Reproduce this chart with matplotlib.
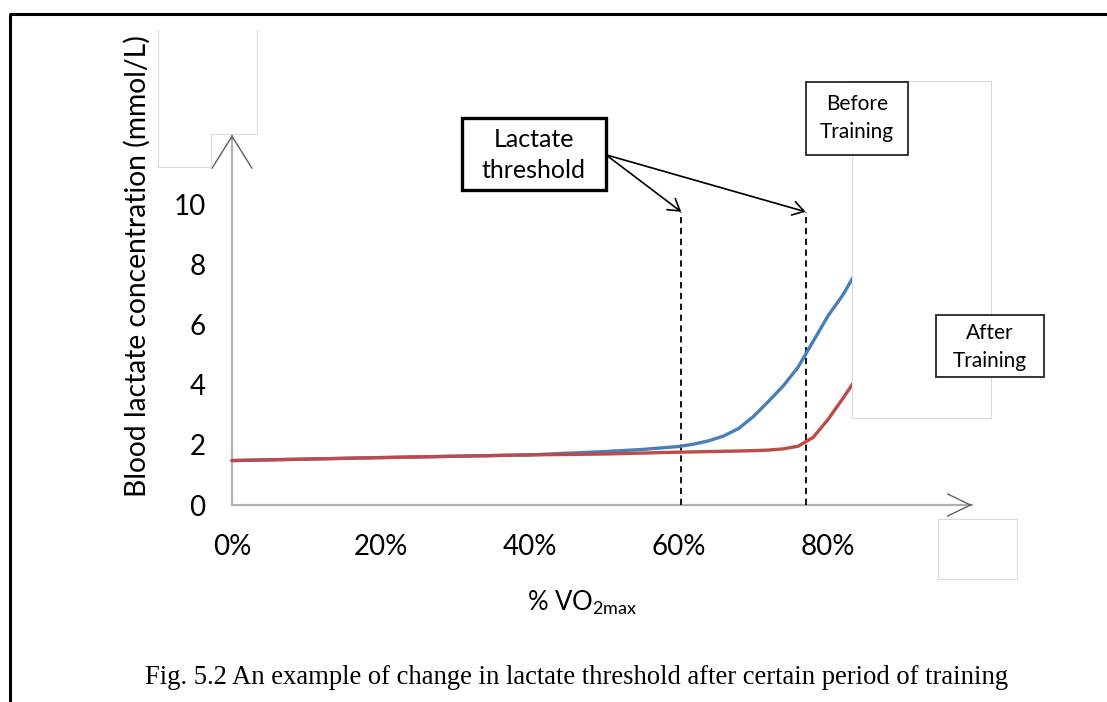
import matplotlib
matplotlib.use("Agg")
import matplotlib.pyplot as plt
from matplotlib.patches import Rectangle, Polygon

plt.rcParams['font.family'] = ['Lato', 'DejaVu Sans']
plt.rcParams['mathtext.fontset'] = 'custom'
plt.rcParams['mathtext.rm'] = 'Lato'

# ---- data ----
vo2_pct = [0, 20, 40, 50, 55, 58, 60, 62, 64, 66, 68, 70, 72, 74, 76, 78, 80, 82, 83.4]
before_training = [1.48, 1.58, 1.67, 1.78, 1.85, 1.91, 1.95, 2.03, 2.14, 2.3, 2.55, 2.95, 3.45,
                   3.97, 4.6, 5.45, 6.3, 7.0, 7.6]
after_training = [1.48, 1.58, 1.67, 1.70, 1.73, 1.75, 1.76, 1.77, 1.78, 1.79, 1.80, 1.81, 1.83,
                  1.87, 1.96, 2.25, 2.85, 3.55, 4.07]
thresholds = [60.3, 77.0]
threshold_top = 9.77
y_ticks = [0, 2, 4, 6, 8, 10]
x_ticks = [0, 20, 40, 60, 80]
x_tick_labels = ['0%', '20%', '40%', '60%', '80%']
x_max, y_max = 99.33, 12.33

W, H = 1107, 702
fig = plt.figure(figsize=(W / 100, H / 100), dpi=100)
fig.patch.set_facecolor('white')

ax = fig.add_axes([232 / W, 1 - 505 / H, 740 / W, 370 / H])
ax.set_xlim(0, x_max)
ax.set_ylim(0, y_max)
for s in ax.spines.values():
    s.set_visible(False)
ax.patch.set_alpha(0)
ax.set_yticks(y_ticks)
ax.set_yticklabels([str(v) for v in y_ticks])
ax.set_xticks(x_ticks)
ax.set_xticklabels(x_tick_labels)
ax.tick_params(length=0, labelsize=20, colors='black')
ax.tick_params(axis='y', pad=19)
ax.tick_params(axis='x', pad=21)

# axes with arrows
axis_col = '#b0b0b0'
head_col = '#606060'
ax.plot([0, x_max], [0, 0], color=axis_col, lw=1.6, clip_on=False, zorder=1)
ax.plot([0, 0], [0, y_max], color=axis_col, lw=1.6, clip_on=False, zorder=1)
ax.annotate('', xy=(x_max, 0), xytext=(-1, 0), textcoords='offset points',
            xycoords='data',
            arrowprops=dict(arrowstyle='->,head_length=1.65,head_width=0.8',
                            color=head_col, lw=1.0, shrinkA=0, shrinkB=0, mutation_scale=10))
ax.annotate('', xy=(0, y_max), xytext=(0, -1), textcoords='offset points',
            xycoords='data',
            arrowprops=dict(arrowstyle='->,head_length=2.3,head_width=1.44',
                            color=head_col, lw=1.0, shrinkA=0, shrinkB=0, mutation_scale=10))

# curves
ax.plot(vo2_pct, before_training, color='#4a7ebb', lw=2.4, solid_capstyle='round',
        solid_joinstyle='round', zorder=3, clip_on=False)
ax.plot(vo2_pct, after_training, color='#be4b48', lw=2.4, solid_capstyle='round',
        solid_joinstyle='round', zorder=4, clip_on=False)

# threshold dashed lines
ax.vlines(thresholds, 0, threshold_top, colors='black', linestyles=(0, (3.5, 2.5)), lw=1.3, zorder=2)

# arrows from the lactate-threshold box
for t in thresholds:
    ax.annotate('', xy=(t, threshold_top), xytext=(50.2, 11.67),
                arrowprops=dict(arrowstyle='->,head_length=0.8,head_width=0.5',
                                color='black', lw=1.2, shrinkA=0, shrinkB=0, mutation_scale=10),
                annotation_clip=False)

# ---- overlay in pixel coordinates ----
ov = fig.add_axes([0, 0, 1, 1], zorder=10)
ov.set_xlim(0, W)
ov.set_ylim(H, 0)
ov.axis('off')
ov.patch.set_alpha(0)

edge_light = '#dcdcdc'
# page border (top & left)
ov.plot([10, 10], [14, H + 5], color='black', lw=2.2, solid_capstyle='butt')
ov.plot([9, W + 5], [14, 14], color='black', lw=2.2, solid_capstyle='butt')

# blank placeholder shapes
ov.add_patch(Rectangle((852, 81), 139, 337, fc='white', ec=edge_light, lw=0.8))
ov.add_patch(Rectangle((938, 519), 79, 60, fc='white', ec=edge_light, lw=0.8))
ov.add_patch(Polygon([(158, 30), (257, 30), (257, 134), (211, 134), (211, 167), (158, 167)],
                     closed=True, fc='white', ec='none'))
ov.plot([158, 158, 211, 211, 257, 257], [30, 167, 167, 134, 134, 30], color=edge_light, lw=0.8)

# labelled boxes
ov.add_patch(Rectangle((462, 118), 144, 72, fc='white', ec='black', lw=2.4))
ov.text(534, 155, 'Lactate\nthreshold', ha='center', va='center', fontsize=18, linespacing=1.43)
ov.add_patch(Rectangle((806, 82), 102, 73, fc='white', ec='#262626', lw=1.3))
ov.text(857, 118, 'Before\nTraining', ha='center', va='center', fontsize=15, linespacing=1.55)
ov.add_patch(Rectangle((936, 315), 108, 62, fc='white', ec='#262626', lw=1.3))
ov.text(990, 347, 'After\nTraining', ha='center', va='center', fontsize=15, linespacing=1.55)

# axis titles
ov.text(137, 266, 'Blood lactate concentration (mmol/L)', rotation=90, ha='center', va='center', fontsize=20.3)
ov.text(582, 603, r'% VO$_{\mathregular{2max}}$', ha='center', va='center', fontsize=18.5)

# caption
ov.text(577, 677, 'Fig. 5.2 An example of change in lactate threshold after certain period of training',
        ha='center', va='center', fontsize=19.2, family='Liberation Serif')

fig.savefig('out.png', dpi=100, facecolor='white')
